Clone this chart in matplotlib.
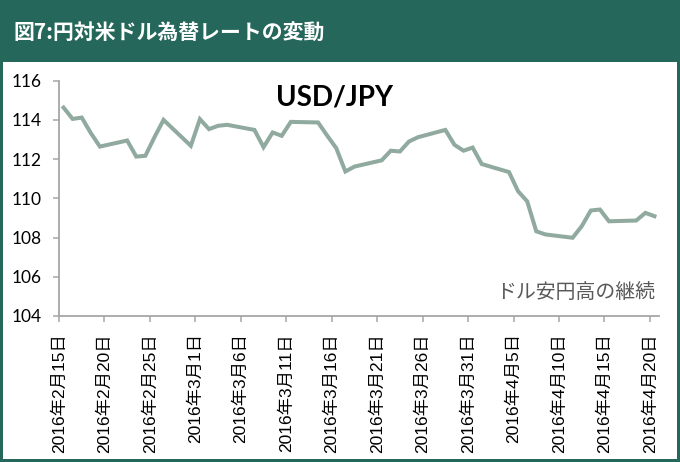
import datetime as dt
import matplotlib
matplotlib.use('Agg')
import matplotlib.pyplot as plt
import matplotlib.dates as mdates
from matplotlib.patches import Rectangle

plt.rcParams['font.family'] = ['Lato', 'Noto Sans CJK JP', 'DejaVu Sans']

# USD/JPY, trading days 2016/2/15 - 2016/4/20
dates = ['2016-02-15', '2016-02-16', '2016-02-17', '2016-02-18', '2016-02-19',
         '2016-02-22', '2016-02-23', '2016-02-24', '2016-02-25', '2016-02-26',
         '2016-02-29', '2016-03-01', '2016-03-02', '2016-03-03', '2016-03-04',
         '2016-03-07', '2016-03-08', '2016-03-09', '2016-03-10', '2016-03-11',
         '2016-03-14', '2016-03-15', '2016-03-16', '2016-03-17', '2016-03-18',
         '2016-03-21', '2016-03-22', '2016-03-23', '2016-03-24', '2016-03-25',
         '2016-03-28', '2016-03-29', '2016-03-30', '2016-03-31', '2016-04-01',
         '2016-04-04', '2016-04-05', '2016-04-06', '2016-04-07', '2016-04-08',
         '2016-04-11', '2016-04-12', '2016-04-13', '2016-04-14', '2016-04-15',
         '2016-04-18', '2016-04-19', '2016-04-20']
usdjpy = [114.63, 114.05, 114.12, 113.33, 112.64,
          112.95, 112.13, 112.17, 113.12, 114.00,
          112.68, 114.04, 113.53, 113.70, 113.75,
          113.49, 112.61, 113.36, 113.19, 113.90,
          113.87, 113.20, 112.56, 111.37, 111.62,
          111.94, 112.43, 112.39, 112.90, 113.12,
          113.49, 112.73, 112.43, 112.59, 111.75,
          111.34, 110.36, 109.85, 108.32, 108.16,
          107.99, 108.58, 109.38, 109.43, 108.83,
          108.87, 109.26, 109.09]

tick_dates = ['2016-02-15', '2016-02-20', '2016-02-25', '2016-03-01', '2016-03-06',
              '2016-03-11', '2016-03-16', '2016-03-21', '2016-03-26', '2016-03-31',
              '2016-04-05', '2016-04-10', '2016-04-15', '2016-04-20']
yticks = [104, 106, 108, 110, 112, 114, 116]

green = '#25675a'
line_col = '#91aaa0'
axis_col = '#a6a6a6'

def to_num(s):
    return mdates.date2num(dt.datetime.strptime(s, '%Y-%m-%d'))

# points sit in the middle of each day slot (Excel date axis)
x = [to_num(d) + 0.5 for d in dates]
xt = [to_num(d) for d in tick_dates]
xlab = []
for d in tick_dates:
    t = dt.datetime.strptime(d, '%Y-%m-%d')
    xlab.append('%d年%d月%d日' % (t.year, t.month, t.day))

W, H = 680, 462
fig = plt.figure(figsize=(W / 100, H / 100), dpi=100, facecolor=green)
fig.patches.append(Rectangle((3 / W, (H - 459) / H), 674 / W, 397 / H,
                             transform=fig.transFigure, facecolor='white',
                             edgecolor='none', zorder=-5))

fig.text(13 / W, 1 - 32 / H, '図7:円対米ドル為替レートの変動', color='white',
         fontsize=15, fontweight='bold', va='center', ha='left',
         family=['Noto Sans CJK JP', 'DejaVu Sans'])

ax = fig.add_axes([59 / W, (H - 316) / H, 600 / W, 235.3 / H])
ax.set_zorder(2)
ax.set_facecolor('none')
ax.plot(x, usdjpy, color=line_col, lw=2.9, solid_joinstyle='miter')

ax.set_xlim(to_num('2016-02-15'), to_num('2016-04-21'))
ax.set_ylim(104, 116)
ax.set_yticks(yticks)
ax.set_yticklabels([str(v) for v in yticks])
ax.set_xticks(xt)
ax.set_xticklabels(xlab, rotation=90,
                   family=['Liberation Sans', 'Noto Sans CJK JP', 'DejaVu Sans'],
                   fontsize=12.5)

for s in ['top', 'right']:
    ax.spines[s].set_visible(False)
for s in ['left', 'bottom']:
    ax.spines[s].set_color(axis_col)
    ax.spines[s].set_linewidth(1.3)
ax.tick_params(axis='both', color=axis_col, width=1.1, length=4.5)
ax.tick_params(axis='y', labelsize=12.5, pad=8)
ax.tick_params(axis='x', pad=8)

ax.text(0.46, 0.93, 'USD/JPY', transform=ax.transAxes, ha='center', va='center',
        fontsize=20, fontweight='bold', color='black', family=['Lato', 'DejaVu Sans'])
ax.text(0.993, 0.055, 'ドル安円高の継続', transform=ax.transAxes, ha='right',
        va='bottom', fontsize=14.3, color='#595959',
        family=['Noto Sans CJK JP', 'DejaVu Sans'])

fig.savefig('out.png', dpi=100, facecolor=green)
